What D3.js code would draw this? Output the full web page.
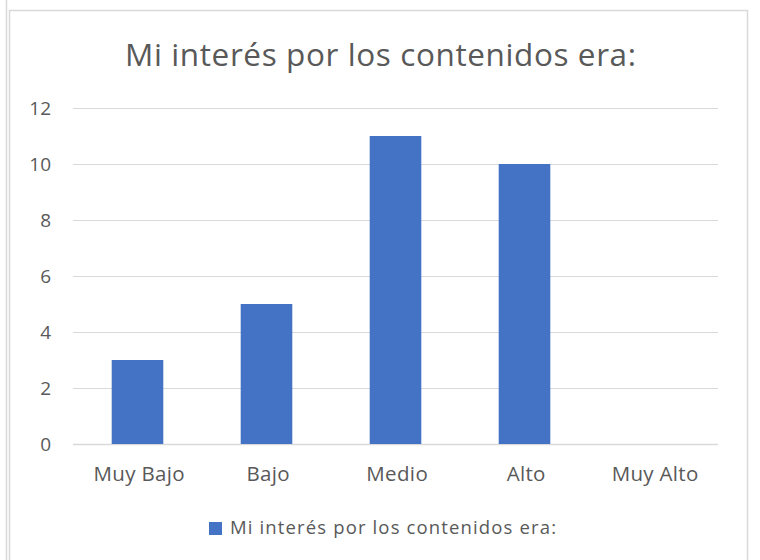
<!DOCTYPE html>
<html lang="es">
<head>
<meta charset="utf-8">
<title>Mi interés</title>
<script src="https://d3js.org/d3.v7.min.js"></script>
<style>
body { margin: 0; background: #ffffff; }
text { font-family: "Open Sans", Lato, sans-serif; fill: #595959; }
</style>
</head>
<body>
<div id="container"></div>
<script>
var categories = ["Muy Bajo", "Bajo", "Medio", "Alto", "Muy Alto"];
var values = [3, 5, 11, 10, 0];
var yTicks = [0, 2, 4, 6, 8, 10, 12];
var seriesName = "Mi interés por los contenidos era:";
var chartTitle = "Mi interés por los contenidos era:";

var w = 760, h = 560;
var svg = d3.select("#container").append("svg")
    .attr("width", w).attr("height", h);

// outer frame lines
svg.append("line").attr("x1", 6.5).attr("x2", 6.5).attr("y1", 0).attr("y2", h)
    .attr("stroke", "#d9d9d9").attr("stroke-width", 1.5);
svg.append("rect").attr("x", 9.5).attr("y", 10.5).attr("width", 738).attr("height", 560)
    .attr("fill", "#ffffff").attr("stroke", "#d9d9d9").attr("stroke-width", 1.5);

var plot = { left: 73, right: 718, top: 108, bottom: 444 };

var x = d3.scaleBand().domain(categories).range([plot.left, plot.right])
    .paddingInner(0.6).paddingOuter(0.3);
var y = d3.scaleLinear().domain([0, 12]).range([plot.bottom, plot.top]);

// gridlines
svg.append("g").selectAll("line").data(yTicks).enter().append("line")
    .attr("x1", plot.left).attr("x2", plot.right)
    .attr("y1", function(d) { return Math.round(y(d)) + 0.5; })
    .attr("y2", function(d) { return Math.round(y(d)) + 0.5; })
    .attr("stroke", "#d9d9d9").attr("stroke-width", function(d) { return d === 0 ? 1.5 : 1; });

// y labels
svg.append("g").selectAll("text").data(yTicks).enter().append("text")
    .attr("x", 51).attr("y", function(d) { return y(d); })
    .attr("dy", "0.36em").attr("text-anchor", "end")
    .style("font-size", "19px")
    .text(function(d) { return d; });

// bars
svg.append("g").selectAll("rect").data(values).enter().append("rect")
    .attr("x", function(d, i) { return x(categories[i]); })
    .attr("width", x.bandwidth())
    .attr("y", function(d) { return y(d); })
    .attr("height", function(d) { return y(0) - y(d); })
    .attr("fill", "#4472c4");

// x labels (spacing stretched a bit like the original rendering)
var xLabels = svg.append("g").selectAll("text").data(categories).enter().append("text")
    .attr("x", function(d) { return x(d) + x.bandwidth() / 2 + 1.5; })
    .attr("y", 481).attr("text-anchor", "middle")
    .style("font-size", "20.5px")
    .text(function(d) { return d; });
var natural = xLabels.nodes()[0].getComputedTextLength();
var ratio = 91 / natural;
xLabels.attr("textLength", function() { return this.getComputedTextLength() * ratio; })
    .attr("lengthAdjust", "spacing");

// title
svg.append("text").attr("x", 380.5).attr("y", 66).attr("text-anchor", "middle")
    .style("font-size", "31.5px")
    .attr("textLength", 511).attr("lengthAdjust", "spacing")
    .text(chartTitle);

// legend
svg.append("rect").attr("x", 209).attr("y", 522).attr("width", 13).attr("height", 13)
    .attr("fill", "#4472c4");
svg.append("text").attr("x", 230).attr("y", 534).style("font-size", "18.5px")
    .attr("textLength", 326).attr("lengthAdjust", "spacing")
    .text(seriesName);
</script>
</body>
</html>
